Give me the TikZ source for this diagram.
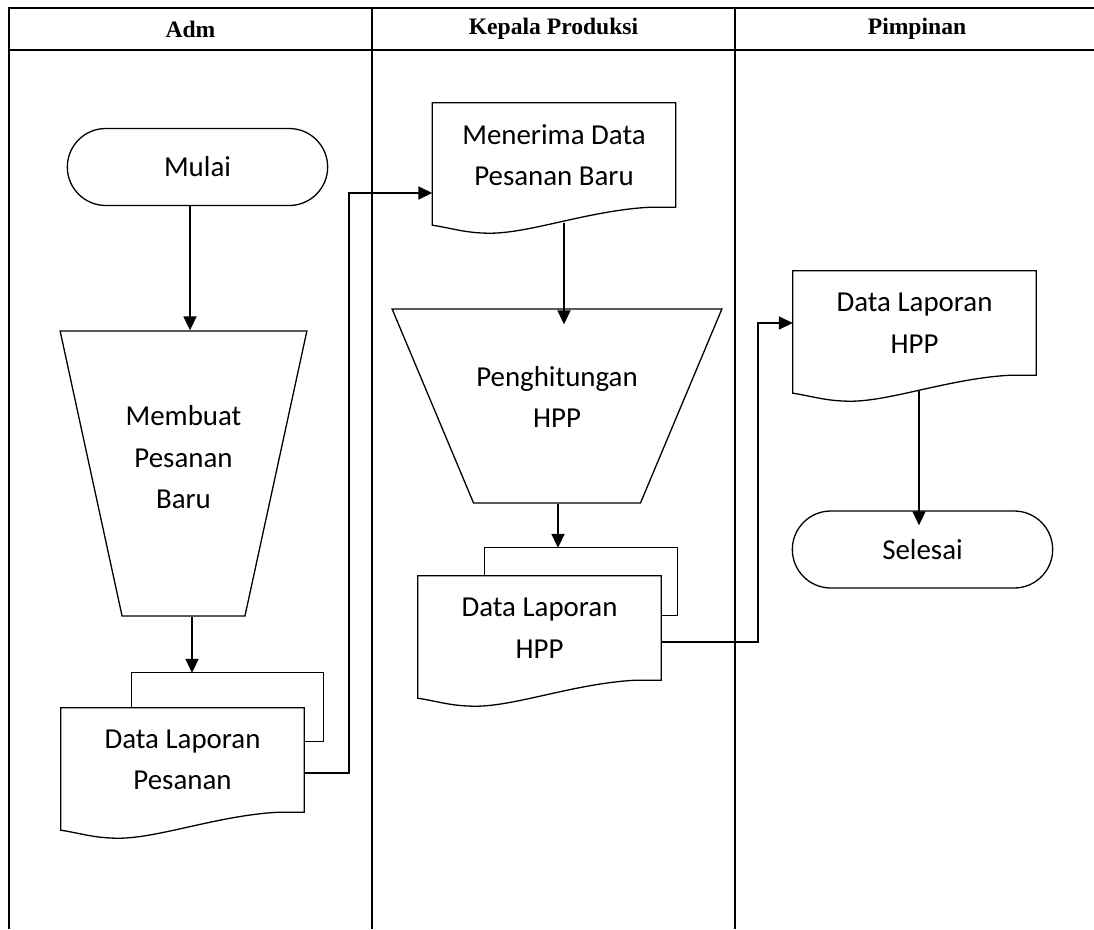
\documentclass[tikz,border=0pt]{standalone}
\usepackage{fontspec}
\setmainfont{Carlito}
\newfontfamily\judulfont{Liberation Serif}
\usetikzlibrary{shapes.geometric,shapes.misc,arrows.meta,calc}

\newcommand{\isi}{\fontsize{28.9}{41.5}\selectfont}
\newcommand{\judul}{\judulfont\fontsize{23.6}{28}\selectfont\bfseries}

% garis luar dokumen (bawah bergelombang)
\newcommand{\dokumen}[1]{%
  \draw[bentuk] (#1.south east) -- (#1.north east) -- (#1.north west)
    -- ($(#1.south west)+(0,18)$)
    .. controls +(20,3) and +(-25,0) .. ($(#1.south west)+(58,26)$)
    .. controls +(40,0) and +(-60,3) .. ($(#1.south west)+(218,0)$) -- cycle;}

\tikzset{
  garis/.style={line width=2.2pt},
  bentuk/.style={line width=1.3pt},
  kepala/.style={font=\judul},
  isi/.style={font=\isi, align=center},
  terminal/.style={rounded rectangle, draw, line width=1.3pt, minimum width=267pt, minimum height=77pt, font=\isi},
  manual/.style={trapezium, draw, line width=1.3pt, shape border rotate=180, trapezium stretches=true, inner sep=3pt},
  dok/.style={rectangle, minimum width=243pt, minimum height=104pt, inner sep=0pt, font=\isi, align=center},
  panah/.style={line width=1.8pt, -{Triangle[length=14pt,width=13pt]}},
  alur/.style={line width=1.7pt, -{Triangle[length=14pt,width=13pt]}}
}

\begin{document}
\begin{tikzpicture}[x=1pt, y=-1pt]
  \useasboundingbox (0,0) rectangle (1094,929);

  % tabel
  \draw[garis] (9,929) -- (9,8) -- (1094,8);
  \draw[garis] (9,50) -- (1094,50);
  \draw[garis] (372,8) -- (372,929);
  \draw[garis] (735,8) -- (735,929);
  \node[kepala] (hadm) at (190.5,29) {Adm};
  \node[kepala] (hkp) at (553.5,29) {Kepala Produksi};
  \node[kepala] (hpim) at (917,29) {Pimpinan};

  % Adm
  \node[terminal] (mulai) at (197.5,167) {Mulai};
  \node[manual, minimum width=247pt, minimum height=285pt,
        trapezium left angle=63.25, trapezium right angle=63.25] (buat) at (183.5,473.5) {};
  \node[isi] (tbuat) at ([yshift=16pt]buat.center) {Membuat\\Pesanan\\Baru};
  \node[dok] (dlp) at (182.5,760) {Data Laporan\\Pesanan};
  \coordinate (dlpb) at ($(dlp.north)+(9.5,-35)$);
  \draw[bentuk] ($(dlp.north west)+(71,0)$) |- ($(dlp.north east)+(19,-35)$) |- ($(dlp.north east)+(0,34)$);
  \dokumen{dlp}

  % Kepala Produksi
  \node[dok] (ter) at (554,155) {Menerima Data\\Pesanan Baru};
  \dokumen{ter}
  \node[manual, minimum width=330pt, minimum height=194pt,
        trapezium left angle=64, trapezium right angle=64] (hit) at (557,406) {};
  \node[isi] (thit) at ([yshift=9pt]hit.center) {Penghitungan\\HPP};
  \node[dok] (dh) at (539.5,628) {Data Laporan\\HPP};
  \coordinate (dhb) at ($(dh.north)+(18.5,-28)$);
  \draw[bentuk] ($(dh.north west)+(67,0)$) |- ($(dh.north east)+(16,-28)$) |- ($(dh.north east)+(0,40)$);
  \dokumen{dh}

  % Pimpinan
  \node[dok] (dlh) at (914.5,323) {Data Laporan\\HPP};
  \dokumen{dlh}
  \node[terminal] (selesai) at (922.5,549.5) {Selesai};

  % panah
  \draw[panah] ([xshift=-7.5pt]mulai.south) -- ([xshift=-7.5pt]mulai.south |- buat.north);
  \draw[panah] (buat.south -| dlpb) -- (dlpb);
  \draw[alur] ([yshift=-13pt]dlp.east) -- ++(45,0) |- ([yshift=-38pt]ter.west);
  \draw[panah] ([xshift=10pt,yshift=-16pt]ter.south) -- ([xshift=10pt,yshift=-16pt]ter.south |- hit.north);
  \draw[panah] (hit.south -| dhb) -- (dhb);
  \draw[alur] ([yshift=-14pt]dh.east) -- ++(97,0) |- (dlh.west);
  \draw[panah] ([xshift=4.5pt,yshift=-15pt]dlh.south) -- ([xshift=4.5pt,yshift=-15pt]dlh.south |- selesai.north);
\end{tikzpicture}
\end{document}
